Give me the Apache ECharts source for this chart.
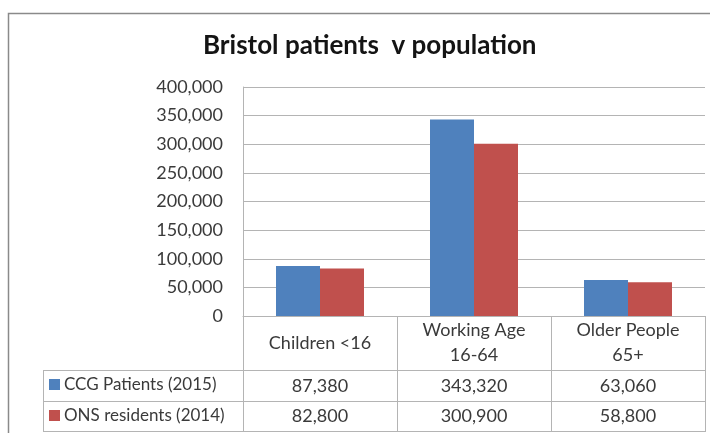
<!DOCTYPE html>
<html>
<head>
<meta charset="utf-8">
<script src="https://cdn.jsdelivr.net/npm/echarts@6/dist/echarts.min.js"></script>
<style>
html,body{margin:0;padding:0;background:#fff;}
#chart{width:710px;height:433px;}
</style>
</head>
<body>
<div id="chart"></div>
<script>
const titleText = 'Bristol patients  v population';
const categories = ['Children <16', 'Working Age\n16-64', 'Older People\n65+'];
const seriesNames = ['CCG Patients (2015)', 'ONS residents (2014)'];
const ccgPatients = [87380, 343320, 63060];
const onsResidents = [82800, 300900, 58800];
const yTicks = [0, 50000, 100000, 150000, 200000, 250000, 300000, 350000, 400000];

const FONT = 'Lato';
const TXT = '#3a3a3a';
const LINE = '#b4b4b4';
const fmt = v => Number(v).toLocaleString('en-US');

const chart = echarts.init(document.getElementById('chart'), null, {renderer: 'canvas'});

const option = {
  animation: false,
  backgroundColor: '#ffffff',
  color: ['#4f81bd', '#c0504d'],
  title: {
    text: titleText,
    left: 203,
    top: 33,
    padding: 0,
    textStyle: {fontFamily: FONT, fontWeight: 'bold', fontSize: 26, color: '#141414'}
  },
  legend: [
    {
      data: [seriesNames[0]], left: 49, top: 376, padding: 0,
      icon: 'rect', itemWidth: 11, itemHeight: 11, itemGap: 5,
      textStyle: {fontFamily: FONT, fontSize: 17, color: TXT, padding: [0, 0, 0, -1]}
    },
    {
      data: [seriesNames[1]], left: 49, top: 407, padding: 0,
      icon: 'rect', itemWidth: 11, itemHeight: 11, itemGap: 5,
      textStyle: {fontFamily: FONT, fontSize: 17, color: TXT, padding: [0, 0, 0, -1]}
    }
  ],
  grid: {left: 243, right: 5, top: 87, bottom: 117, containLabel: false},
  xAxis: [
    {
      type: 'category', data: categories, position: 'bottom',
      axisLine: {show: true, lineStyle: {color: LINE, width: 1}},
      axisTick: {show: true, interval: 0, alignWithLabel: false, length: 116, lineStyle: {color: LINE, width: 1}},
      axisLabel: {interval: 0, margin: 27, verticalAlign: 'middle', lineHeight: 25,
        fontFamily: FONT, fontSize: 18, color: TXT, align: 'center'},
      splitLine: {show: false}
    },
    {
      type: 'category', data: categories, position: 'bottom',
      axisLine: {show: false}, axisTick: {show: false}, splitLine: {show: false},
      axisLabel: {interval: 0, margin: 70, verticalAlign: 'middle',
        fontFamily: FONT, fontSize: 18, color: TXT,
        formatter: (v, i) => fmt(ccgPatients[i])}
    },
    {
      type: 'category', data: categories, position: 'bottom',
      axisLine: {show: false}, axisTick: {show: false}, splitLine: {show: false},
      axisLabel: {interval: 0, margin: 100, verticalAlign: 'middle',
        fontFamily: FONT, fontSize: 18, color: TXT,
        formatter: (v, i) => fmt(onsResidents[i])}
    }
  ],
  yAxis: {
    type: 'value', min: yTicks[0], max: yTicks[yTicks.length - 1], interval: yTicks[1] - yTicks[0],
    axisLine: {show: true, lineStyle: {color: LINE, width: 1}},
    axisTick: {show: false},
    axisLabel: {margin: 20, fontFamily: FONT, fontSize: 18, color: TXT, formatter: v => fmt(v)},
    splitLine: {show: true, lineStyle: {color: LINE, width: 1}}
  },
  series: [
    {name: seriesNames[0], type: 'bar', xAxisIndex: 0, data: ccgPatients, barWidth: 44, barGap: '0%'},
    {name: seriesNames[1], type: 'bar', xAxisIndex: 0, data: onsResidents, barWidth: 44, barGap: '0%'}
  ],
  graphic: [
    {type: 'rect', silent: true, z: -1, shape: {x: 8.5, y: 13.5, width: 720, height: 440},
      style: {fill: null, stroke: '#8a8a8a', lineWidth: 1.5}},
    {type: 'line', silent: true, shape: {x1: 43, y1: 370.5, x2: 705, y2: 370.5}, style: {stroke: LINE, lineWidth: 1}},
    {type: 'line', silent: true, shape: {x1: 43, y1: 401.5, x2: 705, y2: 401.5}, style: {stroke: LINE, lineWidth: 1}},
    {type: 'line', silent: true, shape: {x1: 43, y1: 431.5, x2: 705, y2: 431.5}, style: {stroke: LINE, lineWidth: 1}},
    {type: 'line', silent: true, shape: {x1: 43.5, y1: 370, x2: 43.5, y2: 432}, style: {stroke: LINE, lineWidth: 1}}
  ]
};
chart.setOption(option);
</script>
</body>
</html>
